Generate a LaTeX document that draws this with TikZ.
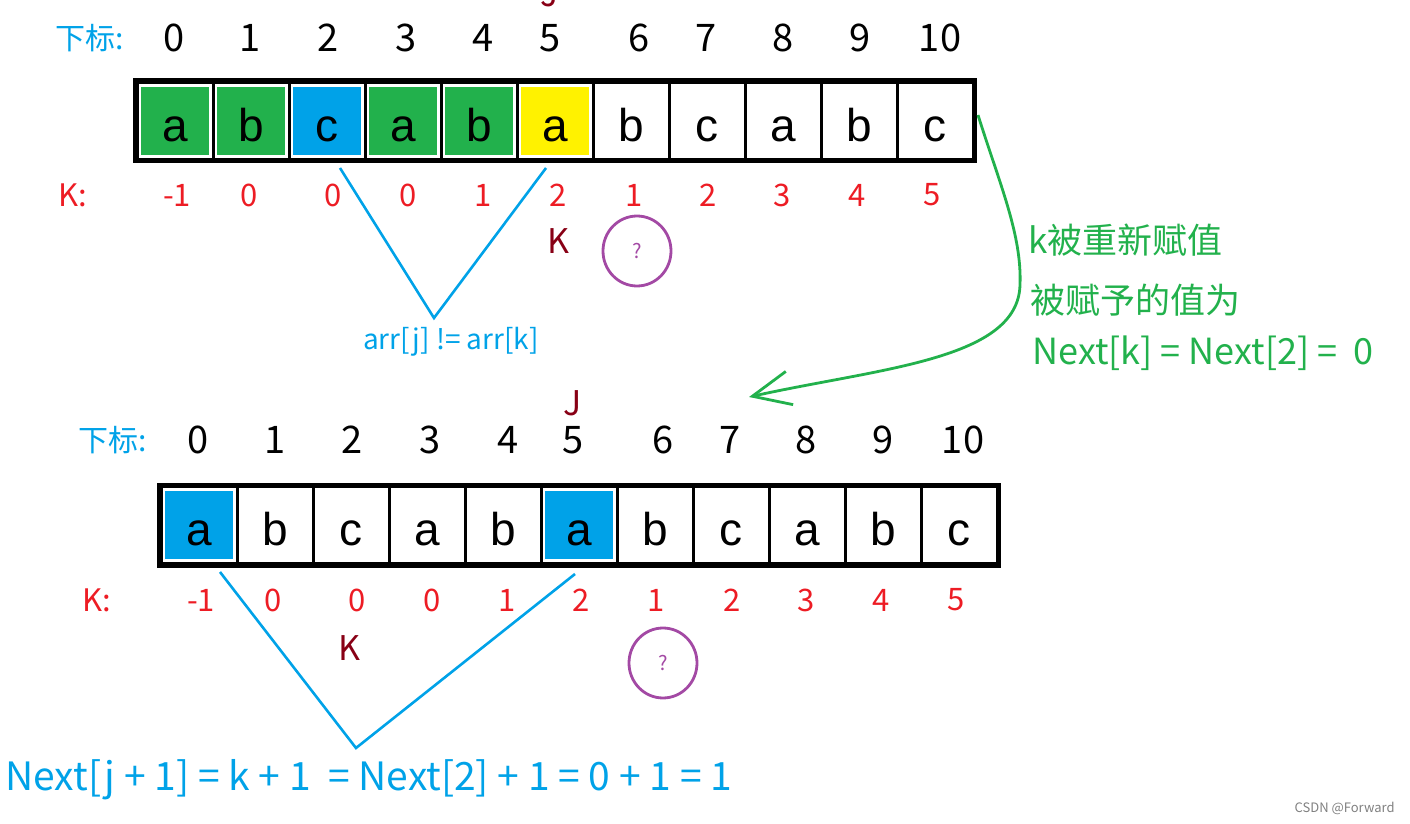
\documentclass[tikz,border=0pt]{standalone}
\usepackage{fontspec}
\setmainfont{Noto Sans CJK SC}
\newfontfamily\arialf{Liberation Sans}
\usetikzlibrary{arrows.meta,shapes.geometric}
\definecolor{gr}{RGB}{34,177,76}
\definecolor{bl}{RGB}{0,162,232}
\definecolor{ye}{RGB}{255,242,0}
\definecolor{rd}{RGB}{237,28,36}
\definecolor{dr}{RGB}{136,0,21}
\definecolor{pu}{RGB}{163,73,164}
\tikzset{
  cellbox/.style={draw=black,line width=1.5pt,minimum width=38pt,minimum height=38.5pt,inner sep=0pt,
    text height=20pt,text depth=0pt,
    font=\arialf\fontsize{23}{26}\selectfont,
    path picture={\fill[#1] ([xshift=2.2pt,yshift=-2.2pt]path picture bounding box.north west) rectangle ([xshift=-2.2pt,yshift=2.2pt]path picture bounding box.south east);}},
  idx/.style={font=\fontsize{19}{22}\selectfont,text=black,inner sep=0pt},
  kval/.style={font=\fontsize{15.5}{18}\selectfont,text=rd,inner sep=0pt},
  lbl/.style={font=\fontsize{15}{18}\selectfont,text=bl,inner sep=0pt},
  jkmark/.style={font=\fontsize{17}{20}\selectfont,text=dr,inner sep=0pt},
  qcirc/.style={draw=pu,line width=1.4pt,ellipse,minimum width=34pt,minimum height=35pt,inner sep=0pt,text=pu,font=\fontsize{10}{12}\selectfont},
  vline/.style={draw=bl,line width=1.3pt},
  gtext/.style={font=\fontsize{17.5}{21}\selectfont,text=gr,inner sep=0pt,anchor=west},
}
\begin{document}
\begin{tikzpicture}[x=0.5pt,y=-0.5pt]
\useasboundingbox (0,0) rectangle (1410,824);
% ---------- top array ----------
\foreach \l/\f [count=\i from 0] in {a/gr,b/gr,c/bl,a/gr,b/gr,a/ye,b/white,c/white,a/white,b/white,c/white}
  \node[cellbox=\f] (t\i) at (175+76*\i,121) {\l};
\draw[line width=2.5pt] (t0.north west) rectangle (t10.south east);
\node[lbl] (tlab) at (90,38) {下标:};
\foreach \x [count=\i from 0] in {174,250,328,406,483,550,639,706,783,860,940}
  \node[idx] (ti\i) at (\x,38) {\i};
\node[jkmark] (tj) at (550,-6) {J};
\node[kval] (tklab) at (73,195) {K:};
\foreach \v/\x [count=\i from 0] in {-1/177,0/249,0/333,0/408,1/483,2/558,1/634,2/708,3/782,4/857,5/932}
  \node[kval] (tk\i) at (\x,195) {\v};
\node[jkmark] (tK) at (558,241) {K};
\node[qcirc] (tq) at (637,251) {?};
\coordinate (tv1) at (340,168);
\coordinate (tv2) at (546,168);
\node[font=\fontsize{14}{16}\selectfont,text=bl,inner sep=0pt] (arr) at (451,342) {arr[j] != arr[k]};
\coordinate (tvb) at (434,318);
\draw[vline] (tv1) -- (tvb) -- (tv2);
% ---------- green arrow ----------
\coordinate (g0) at (978,115);
\coordinate (g1) at (1020,285);
\coordinate (g2) at (749,397);
\draw[gr,line width=1.4pt,-{Straight Barb[length=19pt,width=17pt,line width=1.4pt]}]
  (g0) .. controls (1000,185) and (1022,235) .. (g1) .. controls (1018,360) and (880,368) .. (g2);
\node[gtext] (gt1) at (1028,240) {k被重新赋值};
\node[gtext] (gt2) at (1030,300) {被赋予的值为};
\node[gtext,font=\fontsize{18}{21}\selectfont] (gt3) at (1032,353) {Next[k] = Next[2] =\ \ 0};
% ---------- bottom array ----------
\foreach \l/\f [count=\i from 0] in {a/bl,b/white,c/white,a/white,b/white,a/bl,b/white,c/white,a/white,b/white,c/white}
  \node[cellbox=\f] (b\i) at (199+76*\i,525) {\l};
\draw[line width=2.5pt] (b0.north west) rectangle (b10.south east);
\node[lbl] (blab) at (113,440) {下标:};
\foreach \x [count=\i from 0] in {198,275,352,430,508,573,663,730,806,883,963}
  \node[idx] (bi\i) at (\x,440) {\i};
\node[jkmark] (bj) at (573,403) {J};
\node[kval] (bklab) at (97,600) {K:};
\foreach \v/\x [count=\i from 0] in {-1/201,0/273,0/357,0/432,1/507,2/581,1/656,2/732,3/806,4/881,5/956}
  \node[kval] (bk\i) at (\x,600) {\v};
\node[jkmark] (bK) at (349,648) {K};
\node[qcirc] (bq) at (663,663) {?};
\coordinate (bv1) at (220,572);
\coordinate (bv2) at (575,574);
\coordinate (bvb) at (356,748);
\draw[vline] (bv1) -- (bvb) -- (bv2);
\node[font=\fontsize{19.5}{22}\selectfont,text=bl,inner sep=0pt,anchor=west] (formula) at (5,780) {Next[j + 1] = k + 1\ \ = Next[2] + 1 = 0 + 1 = 1};
\node[font=\fontsize{6.5}{8}\selectfont,text=gray,inner sep=0pt,anchor=east] (wm) at (1395,808) {CSDN @Forward};
\end{tikzpicture}
\end{document}
